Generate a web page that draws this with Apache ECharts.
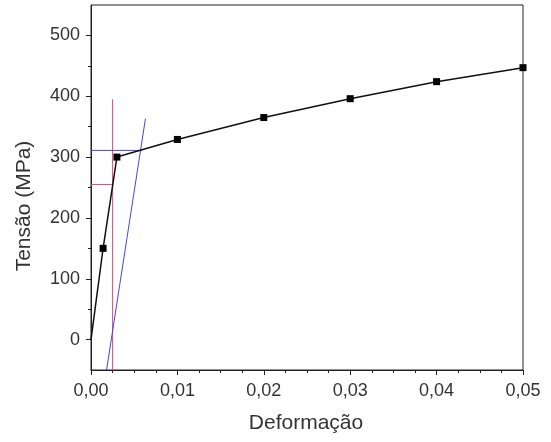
<!DOCTYPE html>
<html lang="pt">
<head>
    <meta charset="UTF-8">
    <title>Tensão x Deformação</title>
    <script src="https://cdn.jsdelivr.net/npm/echarts@6.0.0/dist/echarts.min.js"></script>
    <style>
        html, body { margin: 0; padding: 0; background: #fff; }
        #main { width: 551px; height: 442px; }
    </style>
</head>
<body>
    <div id="main"></div>

    <script type="text/javascript">
        // curva tensão x deformação
        var strain = [0, 0.0014, 0.003, 0.01, 0.02, 0.03, 0.04, 0.05];
        var stress = [0, 150, 300, 329, 365, 396, 424, 447];

        // linhas auxiliares (vermelha e azul)
        var redVertX = [0.0025, 0.0025];
        var redVertY = [-50, 395];
        var redHorizX = [0, 0.0025];
        var redHorizY = [255, 255];
        var blueHorizX = [0, 0.0059];
        var blueHorizY = [311, 311];
        var blueSlopeX = [0.0018, 0.0063];
        var blueSlopeY = [-50, 363];

        // ticks
        var yTicks = [0, 100, 200, 300, 400, 500];
        var yMinorTicks = [50, 150, 250, 350, 450];
        var xTickLabels = ['0,00', '0,01', '0,02', '0,03', '0,04', '0,05'];

        function pairs(xs, ys) {
            var out = [];
            for (var i = 0; i < xs.length; i++) out.push([xs[i], ys[i]]);
            return out;
        }

        var mainData = pairs(strain, stress).map(function (p, i) {
            return i === 0 ? { value: p, symbolSize: 0 } : p;
        });

        var font = 'Liberation Sans, Arial, sans-serif';
        var myChart = echarts.init(document.getElementById('main'));
        var option = {
            animation: false,
            grid: {
                left: 91, right: 28, top: 5, bottom: 72,
                show: true, borderColor: '#222', borderWidth: 1
            },
            xAxis: {
                type: 'value',
                min: 0, max: 0.05, interval: 0.01,
                axisLine: { show: true, onZero: false, lineStyle: { color: '#222', width: 1 } },
                axisTick: { show: true, length: 5, lineStyle: { color: '#222' } },
                minorTick: { show: true, splitNumber: 4, length: 3, lineStyle: { color: '#222' } },
                splitLine: { show: false },
                axisLabel: {
                    margin: 12, fontSize: 18, color: '#333', fontFamily: font,
                    formatter: function (v) { return xTickLabels[Math.round(v / 0.01)]; }
                }
            },
            yAxis: [{
                type: 'value',
                min: -50, max: 550,
                position: 'left',
                axisLine: { show: true, onZero: false, lineStyle: { color: '#222', width: 1 } },
                axisTick: { show: true, length: 5, customValues: yTicks, lineStyle: { color: '#222' } },
                splitLine: { show: false },
                axisLabel: {
                    margin: 11, fontSize: 18, color: '#333', fontFamily: font,
                    customValues: yTicks
                }
            }, {
                type: 'value',
                min: -50, max: 550,
                position: 'left',
                axisLine: { show: false, onZero: false },
                axisTick: { show: true, length: 3, customValues: yMinorTicks, lineStyle: { color: '#222' } },
                splitLine: { show: false },
                axisLabel: { show: false }
            }],
            graphic: [{
                type: 'text',
                style: {
                    text: 'Deformação', x: 306, y: 423,
                    textAlign: 'center', textVerticalAlign: 'middle',
                    font: '21px ' + font, fill: '#333'
                }
            }, {
                type: 'text',
                x: 24, y: 206,
                rotation: Math.PI / 2,
                style: {
                    text: 'Tensão (MPa)', x: 0, y: 0,
                    textAlign: 'center', textVerticalAlign: 'middle',
                    font: '21px ' + font, fill: '#333'
                }
            }],
            series: [{
                type: 'line',
                data: pairs(redVertX, redVertY),
                symbol: 'none',
                lineStyle: { color: '#e04a7c', width: 1 }
            }, {
                type: 'line',
                data: pairs(redHorizX, redHorizY),
                symbol: 'none',
                lineStyle: { color: '#e04a7c', width: 1 }
            }, {
                type: 'line',
                data: pairs(blueHorizX, blueHorizY),
                symbol: 'none',
                lineStyle: { color: '#4646dc', width: 1 }
            }, {
                type: 'line',
                data: pairs(blueSlopeX, blueSlopeY),
                symbol: 'none',
                lineStyle: { color: '#4646dc', width: 1 }
            }, {
                type: 'line',
                data: mainData,
                symbol: 'rect',
                symbolSize: 7,
                itemStyle: { color: '#000' },
                lineStyle: { color: '#111', width: 1.5 },
                clip: true
            }]
        };
        myChart.setOption(option);
    </script>
</body>
</html>
